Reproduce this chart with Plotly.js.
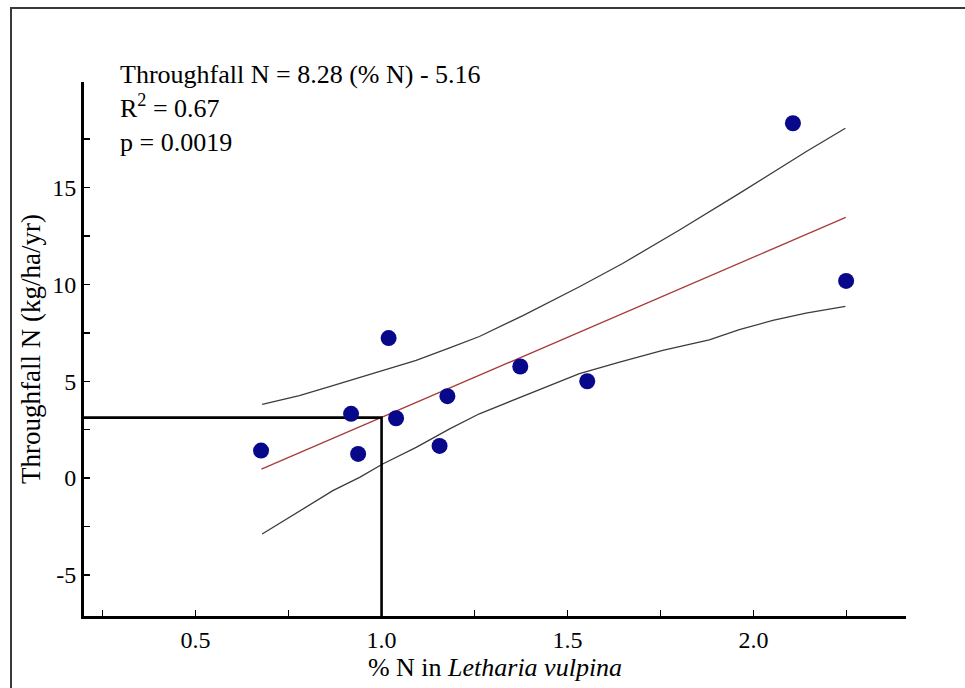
<!DOCTYPE html>
<html>
<head>
<meta charset="utf-8">
<script src="https://cdn.plot.ly/plotly-3.0.1.min.js"></script>
<style>
  html, body { margin: 0; padding: 0; background: #ffffff; overflow: hidden; }
  #frame { position: absolute; left: 10px; top: 7px; width: 1200px; height: 1000px;
           border-left: 2px solid #3a3a3a; border-top: 2px solid #3a3a3a; pointer-events: none; z-index: 5; }
  #chart { position: absolute; left: 0; top: 0; width: 965px; height: 688px; }
</style>
</head>
<body>
<div id="chart"></div>
<div id="frame"></div>
<script>
// Observed data: % N in Letharia vulpina vs throughfall N (kg/ha/yr)
const pctN = [0.676, 0.918, 0.937, 1.019, 1.039, 1.156, 1.177, 1.373, 1.553, 2.106, 2.249];
const throughfallN = [1.42, 3.32, 1.25, 7.23, 3.09, 1.66, 4.23, 5.76, 5.00, 18.32, 10.18];

// Regression line endpoints
const fitX = [0.677, 2.248];
const fitY = [0.46, 13.46];

// Upper confidence band
const upperX = [0.679, 0.779, 0.869, 1.003, 1.093, 1.183, 1.263, 1.380, 1.532, 1.648, 1.801, 1.962, 2.141, 2.247];
const upperY = [3.80, 4.26, 4.78, 5.56, 6.08, 6.72, 7.31, 8.39, 9.88, 11.08, 12.81, 14.70, 16.85, 18.06];

// Lower confidence band
const lowerX = [0.679, 0.779, 0.869, 0.941, 1.003, 1.093, 1.183, 1.263, 1.353, 1.442, 1.532, 1.640, 1.756, 1.881, 1.962, 2.052, 2.141, 2.247];
const lowerY = [-2.89, -1.69, -0.65, 0.04, 0.73, 1.59, 2.54, 3.32, 4.00, 4.69, 5.39, 5.99, 6.59, 7.14, 7.66, 8.14, 8.52, 8.87];

// Reference guide: predicted throughfall at 1.0 % N
const refX = [0.2, 1.0, 1.0];
const refY = [3.12, 3.12, -7.12];

// Tick labels
const xTickVals = [0.5, 1.0, 1.5, 2.0];
const xTickText = ['0.5', '1.0', '1.5', '2.0'];
const xMinorVals = [0.25, 0.75, 1.25, 1.75, 2.25];
const yTickVals = [-5, 0, 5, 10, 15];
const yTickText = ['-5', '0', '5', '10', '15'];
const yMinorVals = [-2.5, 2.5, 7.5, 12.5, 17.5];

const FONT = 'Liberation Serif, Times New Roman, serif';

const traces = [
  { x: upperX, y: upperY, mode: 'lines', line: { color: '#3c3c3c', width: 1.3 }, hoverinfo: 'skip', showlegend: false },
  { x: lowerX, y: lowerY, mode: 'lines', line: { color: '#3c3c3c', width: 1.3 }, hoverinfo: 'skip', showlegend: false },
  { x: fitX, y: fitY, mode: 'lines', line: { color: '#a83c3c', width: 1.3 }, showlegend: false },
  { x: refX, y: refY, mode: 'lines', line: { color: '#000000', width: 2.6 }, showlegend: false },
  { x: pctN, y: throughfallN, mode: 'markers', marker: { color: '#08088a', size: 16 }, showlegend: false }
];

const layout = {
  width: 965, height: 688,
  margin: { l: 84, r: 59, t: 82, b: 72 },
  paper_bgcolor: '#ffffff', plot_bgcolor: '#ffffff',
  font: { family: FONT, color: '#000000', size: 24 },
  showlegend: false,
  xaxis: {
    range: [0.2, 2.41], showgrid: false, zeroline: false,
    showline: true, linecolor: '#000000', linewidth: 3,
    ticks: 'inside', ticklen: 6, tickwidth: 1.5, tickcolor: '#000000',
    tickmode: 'array', tickvals: xTickVals, ticktext: xTickText,
    minor: { tickmode: 'array', tickvals: xMinorVals, ticks: 'inside', ticklen: 6, tickwidth: 1.5, tickcolor: '#000000', showgrid: false },
    tickfont: { family: FONT, size: 24 },
    title: { text: '% N in <i>Letharia vulpina</i>', font: { family: FONT, size: 26 }, standoff: 6 },
    automargin: false
  },
  yaxis: {
    range: [-7.12, 20.45], showgrid: false, zeroline: false,
    showline: true, linecolor: '#000000', linewidth: 3,
    ticks: 'inside', ticklen: 6, tickwidth: 1.5, tickcolor: '#000000',
    tickmode: 'array', tickvals: yTickVals, ticktext: yTickText,
    minor: { tickmode: 'array', tickvals: yMinorVals, ticks: 'inside', ticklen: 6, tickwidth: 1.5, tickcolor: '#000000', showgrid: false },
    tickfont: { family: FONT, size: 24 },
    title: { text: 'Throughfall N (kg/ha/yr)', font: { family: FONT, size: 27 }, standoff: 4 },
    automargin: false
  },
  annotations: [{
    xref: 'paper', yref: 'paper', x: 0.041, y: 1.045, xanchor: 'left', yanchor: 'top',
    align: 'left', showarrow: false,
    text: 'Throughfall N = 8.28 (% N) - 5.16<br>R<sup>2</sup> = 0.67<br>p = 0.0019',
    font: { family: FONT, size: 26, color: '#000000' }
  }]
};

Plotly.newPlot('chart', traces, layout, { displayModeBar: false, staticPlot: true });
</script>
</body>
</html>
